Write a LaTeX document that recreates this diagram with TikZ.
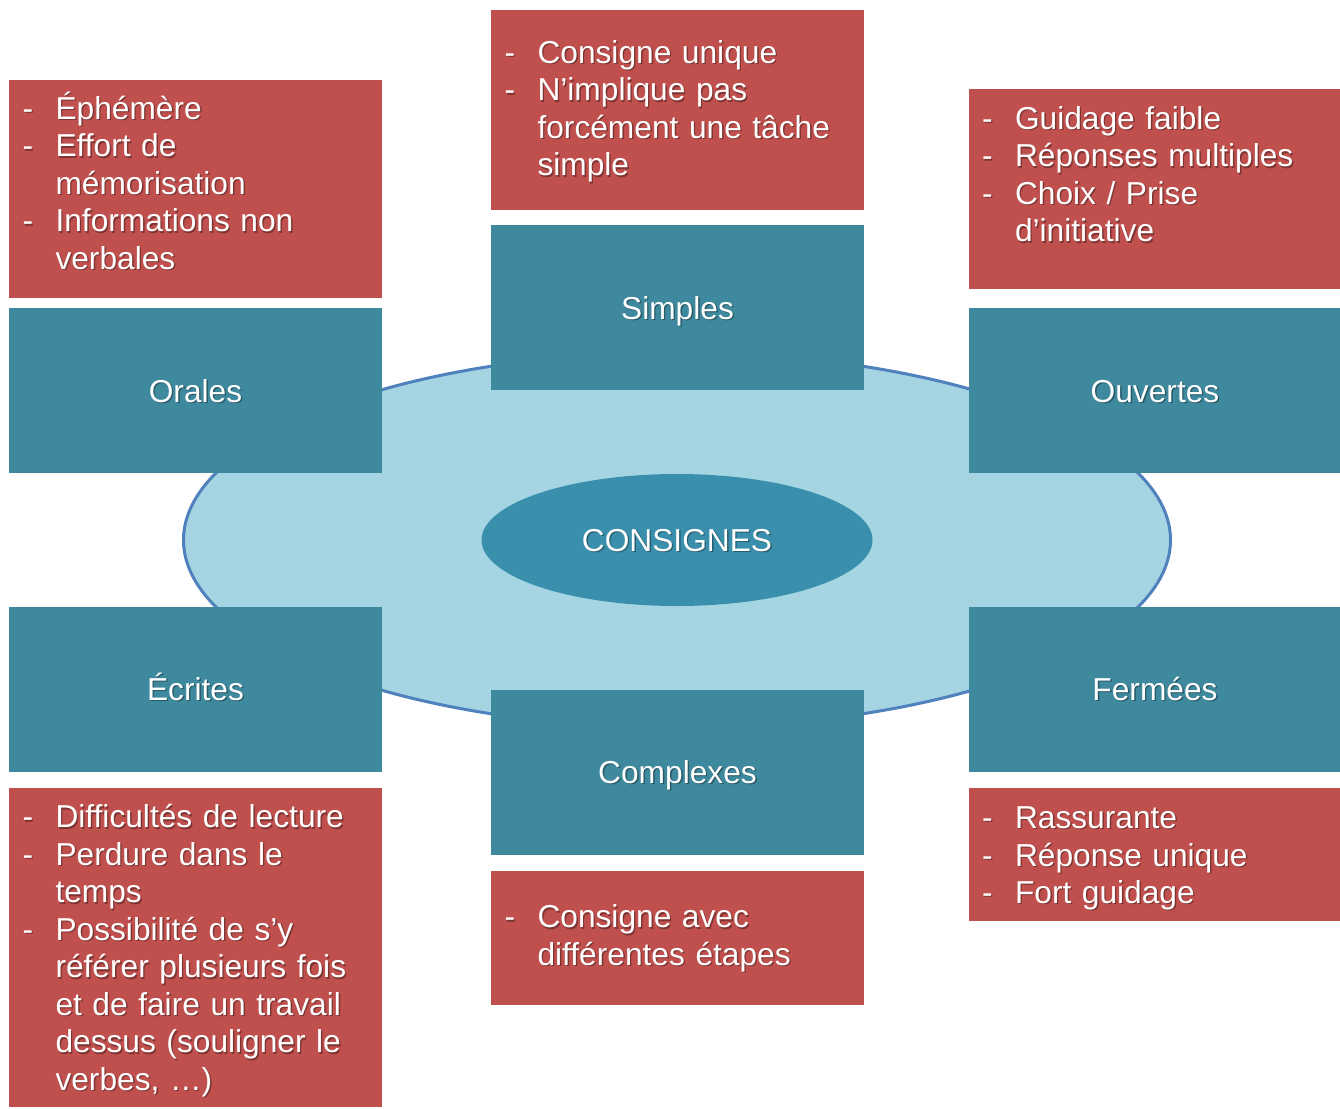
\documentclass[tikz,border=0pt]{standalone}
\usepackage{fontspec}
\setmainfont{Liberation Sans}
\usetikzlibrary{shapes.geometric}

\definecolor{notered}{HTML}{C0504D}
\definecolor{catteal}{HTML}{3E899D}
\definecolor{ringfill}{HTML}{A5D5E2}
\definecolor{ringline}{HTML}{4F81BD}
\definecolor{coreteal}{HTML}{3A8FAC}
\colorlet{shade}{black!50}

\newcommand\shd[1]{\makebox[0pt][l]{\kern1.4pt\raisebox{-1.4pt}{\textcolor{shade}{#1}}}#1}
\newcommand\itm[1]{\makebox[33pt][l]{\shd{-}}\shd{#1}\\}
\newcommand\cnt[1]{\hspace*{33pt}\shd{#1}\\}
\newsavebox\notesbox
% optional argument: moves the lines down inside their box
\newenvironment{notelist}[1][0pt]{\def\nudge{#1}\begin{lrbox}{\notesbox}\begin{tabular}{@{}l@{}}}%
	{\end{tabular}\end{lrbox}\raisebox{0pt}[\dimexpr\ht\notesbox+\nudge\relax][\dimexpr\dp\notesbox-\nudge\relax]{\usebox\notesbox}}

\tikzset{
	every node/.style={font=\fontsize{31.7}{37.5}\selectfont, text=white},
	ring/.style={ellipse, draw=ringline, line width=3pt, fill=ringfill, inner sep=0pt,
		minimum width=987pt, minimum height=375pt},
	core/.style={ellipse, fill=coreteal, inner sep=0pt, minimum width=391pt, minimum height=132pt,
		text height=23pt, text depth=0pt, execute at begin node=\colorlet{shade}{coreteal!65!black}},
	catbox/.style={fill=catteal, inner sep=0pt, minimum width=373pt, minimum height=165pt,
		text height=23pt, text depth=0pt, execute at begin node=\colorlet{shade}{catteal!65!black}},
	notebox/.style={fill=notered, inner xsep=13.5pt, inner ysep=0pt, text width=346pt, align=left,
		minimum width=373pt, execute at begin node=\colorlet{shade}{notered!65!black}}
}

\begin{document}
\begin{tikzpicture}[x=1pt, y=-1pt]
		%%%%% START %%%%%
		\useasboundingbox (0, 0) rectangle (1340, 1108);
		
		\node[ring] (ring) at (677, 540) {};
		\node[core] (core) at (677, 540) {\shd{CONSIGNES}};
		
		% categories
		\node[catbox] (orales) at (195.5, 390.5) {\shd{Orales}};
		\node[catbox] (ecrites) at (195.5, 689) {\shd{Écrites}};
		\node[catbox] (simples) at (677.5, 307.5) {\shd{Simples}};
		\node[catbox] (complexes) at (677.5, 772) {\shd{Complexes}};
		\node[catbox] (ouvertes) at (1155, 390.5) {\shd{Ouvertes}};
		\node[catbox] (fermees) at (1155, 689) {\shd{Fermées}};
		
		% notes
		\node[notebox, minimum height=218pt] (n-orales) at (195.5, 189) {\begin{notelist}[-3pt]
			\itm{Éphémère}
			\itm{Effort de}
			\cnt{mémorisation}
			\itm{Informations non}
			\cnt{verbales}
		\end{notelist}};
		
		\node[notebox, minimum height=200pt] (n-simples) at (677.5, 110) {\begin{notelist}[2pt]
			\itm{Consigne unique}
			\itm{N’implique pas}
			\cnt{forcément une tâche}
			\cnt{simple}
		\end{notelist}};
		
		\node[notebox, minimum height=200pt] (n-ouvertes) at (1155, 189) {\begin{notelist}[-11pt]
			\itm{Guidage faible}
			\itm{Réponses multiples}
			\itm{Choix / Prise}
			\cnt{d’initiative}
		\end{notelist}};
		
		\node[notebox, minimum height=319pt] (n-ecrites) at (195.5, 947.5) {\begin{notelist}[4pt]
			\itm{Difficultés de lecture}
			\itm{Perdure dans le}
			\cnt{temps}
			\itm{Possibilité de s’y}
			\cnt{référer plusieurs fois}
			\cnt{et de faire un travail}
			\cnt{dessus (souligner le}
			\cnt{verbes, …)}
		\end{notelist}};
		
		\node[notebox, minimum height=134pt] (n-complexes) at (677.5, 938) {\begin{notelist}[1pt]
			\itm{Consigne avec}
			\cnt{différentes étapes}
		\end{notelist}};
		
		\node[notebox, minimum height=133pt] (n-fermees) at (1155, 854.5) {\begin{notelist}[4pt]
			\itm{Rassurante}
			\itm{Réponse unique}
			\itm{Fort guidage}
		\end{notelist}};
		
		%%%%% END %%%%%
\end{tikzpicture}
\end{document}
